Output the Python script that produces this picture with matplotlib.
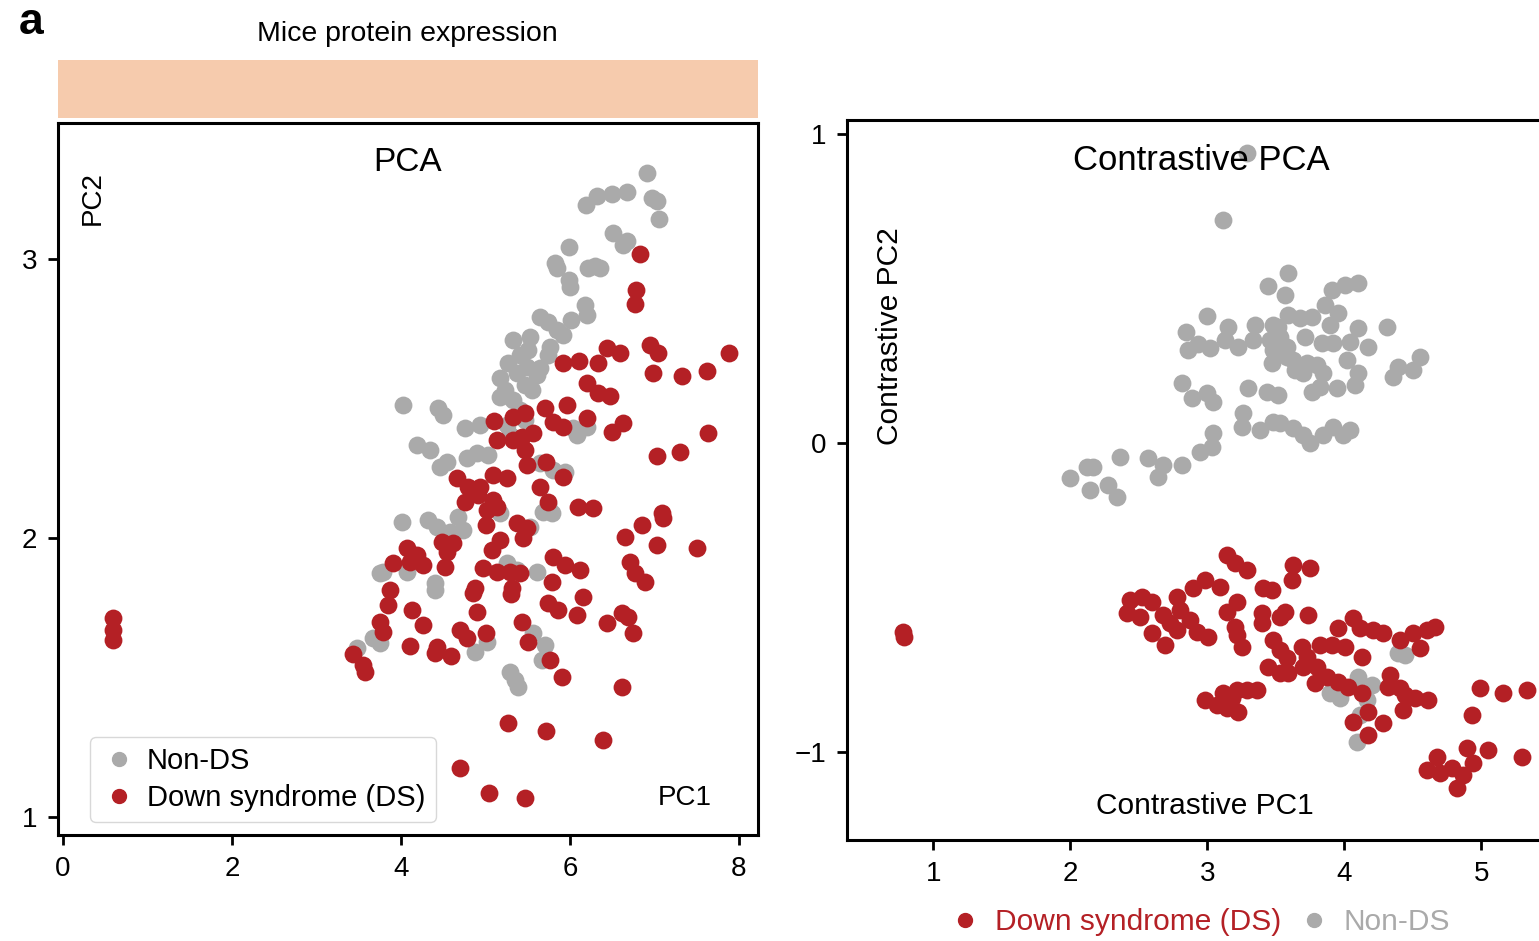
import matplotlib
matplotlib.use("Agg")
import matplotlib.pyplot as plt
from matplotlib.lines import Line2D
from matplotlib.patches import Rectangle

plt.rcParams['font.family'] = ['Liberation Sans', 'DejaVu Sans']

RED = '#b42025'
GREY = '#aaaaaa'

# ---- PCA (left) ----
pca_nonds_x = [6.91, 6.19, 6.32, 6.50, 6.67, 6.97, 7.03, 7.05, 6.51, 6.67, 6.63, 5.99,
               5.82, 5.85, 6.21, 6.30, 6.36, 5.99, 6.00, 6.18, 6.20, 6.01, 5.64, 5.74,
               5.85, 5.92, 5.33, 5.53, 5.50, 5.76, 5.74, 5.27, 5.49, 5.64, 5.17, 5.37,
               5.61, 5.55, 5.17, 5.33, 4.02, 4.44, 4.50, 4.76, 4.93, 5.25, 5.29, 4.19,
               4.34, 4.46, 4.54, 4.78, 4.90, 5.03, 6.04, 6.20, 6.08, 5.64, 5.80, 5.94,
               5.74, 5.68, 5.79, 5.17, 4.01, 4.32, 4.43, 4.67, 4.73, 4.58, 5.53, 3.79,
               4.40, 5.25, 5.61, 5.37, 4.40, 3.48, 3.67, 3.75, 4.88, 5.02, 5.56, 5.70,
               5.67, 5.29, 5.35, 5.38, 3.75, 4.07, 5.41, 5.47, 5.23, 5.41, 5.47]
pca_nonds_y = [3.308, 3.194, 3.226, 3.233, 3.240, 3.219, 3.208, 3.143, 3.093, 3.065, 3.050, 3.043,
               2.986, 2.968, 2.968, 2.975, 2.968, 2.925, 2.900, 2.835, 2.799, 2.781, 2.792, 2.774,
               2.746, 2.728, 2.710, 2.720, 2.674, 2.685, 2.656, 2.627, 2.613, 2.609, 2.573, 2.591,
               2.584, 2.530, 2.505, 2.495, 2.477, 2.466, 2.441, 2.394, 2.405, 2.405, 2.369, 2.333,
               2.315, 2.254, 2.272, 2.287, 2.305, 2.297, 2.394, 2.398, 2.369, 2.269, 2.244, 2.237,
               2.118, 2.093, 2.090, 2.090, 2.057, 2.065, 2.039, 2.075, 2.029, 2.022, 2.039, 1.878,
               1.839, 1.910, 1.878, 1.885, 1.814, 1.606, 1.642, 1.624, 1.591, 1.627, 1.659, 1.616,
               1.563, 1.520, 1.491, 1.466, 1.875, 1.878, 2.656, 2.548, 2.530, 2.459, 2.423]

pca_ds_x = [6.83, 6.78, 6.77, 5.92, 6.11, 6.33, 6.44, 6.59, 6.95, 7.04, 7.88, 6.98,
            7.33, 7.62, 6.20, 6.33, 6.47, 5.70, 5.96, 6.20, 5.80, 5.92, 5.10, 5.33,
            5.47, 6.50, 6.63, 7.63, 5.14, 5.33, 5.43, 5.56, 5.47, 5.49, 5.72, 5.92,
            7.03, 7.30, 4.66, 4.79, 4.93, 4.91, 4.76, 5.09, 5.25, 5.64, 5.74, 5.09,
            5.02, 5.14, 5.00, 6.09, 6.27, 7.09, 7.10, 6.85, 6.65, 7.03, 7.50, 5.37,
            5.49, 5.44, 5.17, 5.08, 4.49, 4.62, 4.54, 4.07, 4.19, 4.26, 4.11, 3.91,
            4.52, 5.80, 5.94, 6.12, 6.71, 6.77, 6.89, 4.97, 5.14, 5.29, 5.41, 5.79,
            3.87, 4.88, 5.31, 3.85, 4.13, 4.26, 3.75, 3.79, 4.11, 4.43, 4.40, 4.59,
            3.43, 3.55, 3.57, 4.85, 4.90, 4.70, 4.78, 5.01, 5.30, 5.43, 5.50, 5.74,
            5.86, 6.15, 6.08, 5.76, 5.91, 6.44, 6.62, 6.69, 6.75, 6.62, 5.27, 5.72,
            6.39, 4.70, 5.04, 5.47, 0.59, 0.59, 0.59]
pca_ds_y = [3.018, 2.889, 2.839, 2.627, 2.634, 2.627, 2.681, 2.663, 2.692, 2.663, 2.663, 2.591,
            2.581, 2.599, 2.556, 2.520, 2.509, 2.466, 2.477, 2.430, 2.416, 2.398, 2.419, 2.434,
            2.448, 2.380, 2.412, 2.376, 2.351, 2.351, 2.362, 2.376, 2.315, 2.262, 2.272, 2.219,
            2.294, 2.308, 2.215, 2.183, 2.183, 2.154, 2.129, 2.226, 2.215, 2.183, 2.129, 2.136,
            2.100, 2.111, 2.047, 2.111, 2.108, 2.090, 2.072, 2.047, 2.004, 1.975, 1.964, 2.054,
            2.036, 2.000, 1.993, 1.957, 1.986, 1.982, 1.950, 1.964, 1.939, 1.903, 1.914, 1.910,
            1.896, 1.932, 1.903, 1.885, 1.914, 1.875, 1.842, 1.892, 1.878, 1.878, 1.875, 1.842,
            1.814, 1.821, 1.821, 1.760, 1.742, 1.688, 1.699, 1.663, 1.613, 1.609, 1.588, 1.577,
            1.584, 1.545, 1.520, 1.803, 1.735, 1.670, 1.642, 1.659, 1.799, 1.699, 1.627, 1.767,
            1.742, 1.789, 1.724, 1.563, 1.502, 1.695, 1.731, 1.717, 1.659, 1.466, 1.337, 1.308,
            1.276, 1.176, 1.086, 1.068, 1.713, 1.670, 1.634]

# ---- Contrastive PCA (right) ----
cpca_nonds_x = [3.29, 3.117, 3.591, 3.445, 3.569, 3.912, 4.007, 4.102, 3.861, 3.956, 3.898,
                3.000, 2.847, 2.861, 2.934, 3.022, 3.153, 3.131, 3.226, 3.350, 3.336, 3.482,
                3.591, 3.679, 3.766, 3.460, 3.533, 3.482, 3.584, 3.715, 3.474, 3.584, 3.642,
                3.730, 3.803, 3.847, 3.839, 3.920, 4.102, 4.044, 4.175, 4.022, 4.314, 4.102,
                4.080, 3.949, 3.766, 3.825, 4.555, 4.504, 4.394, 4.358, 2.818, 2.891, 3.000,
                3.044, 3.299, 3.438, 3.518, 3.263, 3.255, 3.387, 3.482, 3.533, 3.628, 3.701,
                3.752, 3.847, 3.920, 3.993, 4.044, 3.044, 3.036, 2.949, 2.818, 2.679, 2.642,
                2.569, 2.365, 2.124, 2.168, 2.000, 2.146, 2.277, 2.343, 3.518, 3.555, 3.628,
                3.701, 4.394, 4.445, 4.102, 4.204, 3.898, 3.971, 4.168, 4.117, 4.095]
cpca_nonds_y = [0.937, 0.721, 0.549, 0.507, 0.478, 0.494, 0.511, 0.517, 0.446, 0.420, 0.381,
                0.410, 0.359, 0.300, 0.320, 0.307, 0.375, 0.333, 0.310, 0.381, 0.333, 0.381,
                0.414, 0.404, 0.407, 0.333, 0.343, 0.300, 0.310, 0.343, 0.258, 0.278, 0.236,
                0.258, 0.252, 0.226, 0.323, 0.323, 0.372, 0.326, 0.310, 0.268, 0.375, 0.226,
                0.187, 0.178, 0.165, 0.181, 0.278, 0.236, 0.246, 0.213, 0.194, 0.145, 0.162,
                0.132, 0.178, 0.165, 0.155, 0.097, 0.052, 0.042, 0.068, 0.065, 0.048, 0.026,
                0.000, 0.026, 0.052, 0.026, 0.042, 0.032, -0.013, -0.029, -0.071, -0.071, -0.110,
                -0.048, -0.045, -0.078, -0.078, -0.113, -0.152, -0.136, -0.174, 0.375, 0.291, 0.268,
                0.226, -0.679, -0.685, -0.756, -0.782, -0.808, -0.824, -0.830, -0.879, -0.966]

cpca_ds_x = [3.146, 3.204, 3.292, 3.628, 3.752, 3.620, 3.409, 3.474, 2.438, 2.526, 2.416,
             2.511, 2.599, 2.599, 2.693, 2.679, 2.781, 2.803, 2.898, 2.985, 3.095, 2.876,
             2.927, 3.007, 2.781, 2.730, 3.219, 3.146, 3.204, 3.219, 3.255, 3.401, 3.401,
             3.533, 3.569, 3.737, 3.482, 3.533, 3.584, 3.445, 3.533, 3.591, 3.693, 3.730,
             3.701, 3.825, 3.912, 4.007, 3.803, 3.788, 3.876, 3.956, 4.029, 4.131, 4.131,
             4.066, 3.956, 4.117, 4.212, 4.285, 4.409, 4.504, 4.606, 4.664, 4.555, 4.336,
             4.321, 4.409, 4.445, 4.518, 4.613, 4.431, 4.066, 4.175, 4.285, 4.175, 2.985,
             3.073, 3.146, 3.226, 3.117, 3.219, 3.292, 3.365, 3.182, 4.993, 5.161, 5.336,
             4.934, 4.898, 5.051, 5.299, 4.679, 4.606, 4.701, 4.788, 4.869, 4.942, 4.825,
             0.78, 0.79]
cpca_ds_y = [-0.362, -0.388, -0.410, -0.394, -0.404, -0.443, -0.468, -0.475, -0.507, -0.498, -0.549,
             -0.562, -0.514, -0.614, -0.653, -0.556, -0.498, -0.540, -0.468, -0.443, -0.465, -0.572,
             -0.611, -0.627, -0.604, -0.582, -0.514, -0.546, -0.595, -0.620, -0.659, -0.549, -0.582,
             -0.562, -0.546, -0.556, -0.637, -0.669, -0.695, -0.724, -0.743, -0.743, -0.659, -0.691,
             -0.724, -0.653, -0.653, -0.659, -0.724, -0.775, -0.756, -0.772, -0.788, -0.808, -0.691,
             -0.565, -0.598, -0.598, -0.604, -0.614, -0.637, -0.614, -0.604, -0.595, -0.662, -0.750,
             -0.788, -0.792, -0.814, -0.824, -0.830, -0.863, -0.901, -0.869, -0.905, -0.943, -0.830,
             -0.847, -0.856, -0.869, -0.808, -0.798, -0.798, -0.798, -0.824, -0.792, -0.808, -0.798,
             -0.879, -0.985, -0.992, -1.015, -1.015, -1.057, -1.066, -1.050, -1.073, -1.034, -1.115,
             -0.610, -0.628]

pca_xticks = [0, 2, 4, 6, 8]
pca_yticks = [1, 2, 3]
cpca_xticks = [1, 2, 3, 4, 5]
cpca_yticks = [-1, 0, 1]
cpca_yticklabels = ['\u22121', '0', '1']

fig = plt.figure(figsize=(15.39, 9.41), dpi=100)

def style_axes(ax):
    for s in ax.spines.values():
        s.set_linewidth(2.2)
    ax.tick_params(direction='out', length=7, width=2, labelsize=20, pad=8)

ms = 165

# left panel
ax1 = fig.add_axes([0.0377, 0.1126, 0.4548, 0.7567])
ax1.scatter(pca_nonds_x, pca_nonds_y, s=ms, c=GREY, linewidths=0, zorder=2)
ax1.scatter(pca_ds_x, pca_ds_y, s=ms, c=RED, linewidths=0, zorder=3)
ax1.set_xlim(-0.06, 8.225)
ax1.set_ylim(0.935, 3.487)
ax1.set_xticks(pca_xticks)
ax1.set_yticks(pca_yticks)
style_axes(ax1)
ax1.text(0.5, 0.945, 'PCA', transform=ax1.transAxes, ha='center', va='center', fontsize=24)
ax1.text(0.05, 0.895, 'PC2', transform=ax1.transAxes, ha='center', va='center',
         rotation=90, fontsize=20)
ax1.text(0.895, 0.052, 'PC1', transform=ax1.transAxes, ha='center', va='center', fontsize=20)
handles = [Line2D([], [], ls='', marker='o', ms=10, mfc=GREY, mec=GREY),
           Line2D([], [], ls='', marker='o', ms=10, mfc=RED, mec=RED)]
ax1.legend(handles, ['Non-DS', 'Down syndrome (DS)'], loc='lower left',
           bbox_to_anchor=(0.046, 0.018), borderaxespad=0, fontsize=21,
           handletextpad=0.3, handlelength=1.3, borderpad=0.35, labelspacing=0.3,
           framealpha=1, edgecolor='#d8d8d8')

# header band above the left panel
band = Rectangle((0.0377, 0.8746), 0.4548, 0.0616, transform=fig.transFigure,
                 facecolor='#f6cbad', edgecolor='none')
fig.patches.append(band)
fig.text(0.265, 0.964, 'Mice protein expression', ha='center', va='center', fontsize=20.5)
fig.text(0.012, 0.976, 'a', ha='left', va='center', fontsize=32, fontweight='bold')

# right panel
ax2 = fig.add_axes([0.5504, 0.1073, 0.47, 0.7652])
ax2.scatter(cpca_nonds_x, cpca_nonds_y, s=ms, c=GREY, linewidths=0, zorder=2)
ax2.scatter(cpca_ds_x, cpca_ds_y, s=ms, c=RED, linewidths=0, zorder=3)
ax2.set_xlim(0.372, 5.65)
ax2.set_ylim(-1.283, 1.044)
ax2.set_xticks(cpca_xticks)
ax2.set_yticks(cpca_yticks)
ax2.set_yticklabels(cpca_yticklabels)
style_axes(ax2)
ax2.text(0.49, 0.944, 'Contrastive PCA', transform=ax2.transAxes, ha='center', va='center',
         fontsize=25)
ax2.text(0.06, 0.70, 'Contrastive PC2', transform=ax2.transAxes, ha='center', va='center',
         rotation=90, fontsize=21.5)
ax2.text(0.495, 0.047, 'Contrastive PC1', transform=ax2.transAxes, ha='center', va='center',
         fontsize=21.5)

handles2 = [Line2D([], [], ls='', marker='o', ms=10, mfc=RED, mec=RED),
            Line2D([], [], ls='', marker='o', ms=10, mfc=GREY, mec=GREY)]
fig.legend(handles2, ['Down syndrome (DS)', 'Non-DS'], loc='center',
           bbox_to_anchor=(0.779, 0.02), ncol=2, frameon=False, fontsize=21.5,
           labelcolor=[RED, GREY], handletextpad=0.4, columnspacing=0.5,
           handlelength=1.2)

fig.savefig('out.png', dpi=100)
